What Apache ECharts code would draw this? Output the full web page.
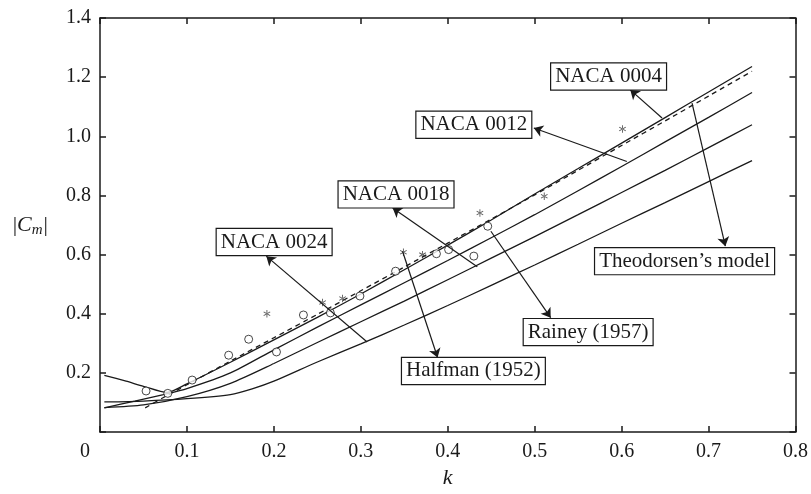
<!DOCTYPE html>
<html>
<head>
<meta charset="utf-8">
<script src="https://cdn.jsdelivr.net/npm/echarts@6/dist/echarts.min.js"></script>
<style>
  html, body { margin: 0; padding: 0; background: #fff; }
  #chart { width: 811px; height: 494px; }
</style>
</head>
<body>
<div id="chart"></div>
<script>
// Moment coefficient magnitude |Cm| versus reduced frequency k

// Axis ticks
const xTicks = [0, 0.1, 0.2, 0.3, 0.4, 0.5, 0.6, 0.7, 0.8];
const yTicks = [0, 0.2, 0.4, 0.6, 0.8, 1.0, 1.2, 1.4];

// Computed curves, [k, |Cm|]
const naca0004 = [[0.005,0.192],[0.03,0.172],[0.05,0.155],[0.077,0.134],[0.1,0.163],[0.15,0.236],[0.2,0.312],[0.25,0.388],[0.3,0.467],[0.35,0.549],[0.4,0.632],[0.45,0.717],[0.5,0.805],[0.55,0.891],[0.6,0.977],[0.65,1.063],[0.7,1.15],[0.75,1.236]];
const naca0012 = [[0.005,0.082],[0.04,0.105],[0.073,0.127],[0.1,0.147],[0.15,0.2],[0.2,0.278],[0.25,0.355],[0.3,0.43],[0.35,0.505],[0.4,0.58],[0.45,0.657],[0.5,0.735],[0.55,0.816],[0.6,0.898],[0.65,0.981],[0.7,1.064],[0.75,1.148]];
const naca0018 = [[0.005,0.083],[0.05,0.092],[0.1,0.12],[0.15,0.165],[0.2,0.232],[0.25,0.303],[0.3,0.373],[0.35,0.443],[0.4,0.515],[0.45,0.588],[0.5,0.661],[0.55,0.735],[0.6,0.81],[0.65,0.885],[0.7,0.962],[0.75,1.039]];
const naca0024 = [[0.005,0.102],[0.05,0.105],[0.1,0.113],[0.15,0.127],[0.175,0.146],[0.2,0.172],[0.25,0.237],[0.3,0.298],[0.35,0.362],[0.4,0.428],[0.45,0.496],[0.5,0.565],[0.55,0.635],[0.6,0.706],[0.65,0.776],[0.7,0.847],[0.75,0.918]];
const theodorsen = [[0.052,0.082],[0.073,0.117],[0.092,0.147],[0.1,0.16],[0.15,0.24],[0.2,0.319],[0.25,0.398],[0.3,0.478],[0.35,0.558],[0.4,0.639],[0.45,0.72],[0.5,0.802],[0.55,0.885],[0.6,0.969],[0.65,1.052],[0.7,1.136],[0.75,1.22]];

// Experimental data
const rainey1957 = [[0.053,0.139],[0.078,0.131],[0.106,0.176],[0.148,0.26],[0.171,0.314],[0.203,0.271],[0.234,0.396],[0.265,0.403],[0.299,0.46],[0.34,0.544],[0.387,0.603],[0.401,0.617],[0.43,0.595],[0.446,0.696]];
const halfman1952 = [[0.192,0.4],[0.256,0.438],[0.279,0.452],[0.349,0.608],[0.371,0.6],[0.437,0.741],[0.511,0.797],[0.601,1.025]];

// Callout boxes: text, box centre [k, |Cm|]
const calloutText = ['NACA 0004', 'NACA 0012', 'NACA 0018', 'NACA 0024', 'Theodorsen\u2019s model', 'Rainey (1957)', 'Halfman (1952)'];
const calloutAt = [[0.585,1.202],[0.430,1.039],[0.3405,0.8036],[0.2003,0.6427],[0.6724,0.578],[0.5615,0.338],[0.4295,0.2068]];
// Arrow from a curve / point to its box: tail and head [k, |Cm|]
const arrowTail = [[0.6465,1.062],[0.606,0.915],[0.434,0.559],[0.3073,0.3046],[0.681,1.112],[0.4496,0.679],[0.348,0.6116]];
const arrowHead = [[0.610,1.157],[0.499,1.028],[0.3366,0.758],[0.1913,0.5948],[0.7193,0.6285],[0.5184,0.387],[0.3883,0.252]];

const FONT = 'Liberation Serif';
const INK = '#1a1a1a';

const asterisk = 'path://M-0.6,-5L0.6,-5L0.6,5L-0.6,5Z' +
  'M4.03,3.02L4.63,1.98L-4.03,-3.02L-4.63,-1.98Z' +
  'M-4.63,1.98L-4.03,3.02L4.63,-1.98L4.03,-3.02Z';

function curve(name, data, dashed) {
  return {
    name: name, type: 'line', data: data, showSymbol: false, smooth: 0.25,
    silent: true, z: 3,
    lineStyle: { color: INK, width: 1.3, type: dashed ? [5, 4] : 'solid' }
  };
}

const chart = echarts.init(document.getElementById('chart'), null, { renderer: 'canvas' });

const axisLineStyle = { color: INK, width: 1.5 };

chart.setOption({
  animation: false,
  backgroundColor: '#fff',
  grid: { left: 100, right: 14, top: 18, bottom: 61, containLabel: false },
  xAxis: [{
    type: 'value', min: xTicks[0], max: xTicks[xTicks.length - 1], interval: 0.1,
    name: 'k', nameLocation: 'middle', nameGap: 30,
    nameTextStyle: { fontFamily: FONT, fontSize: 22, fontStyle: 'italic', color: INK },
    axisLine: { show: true, onZero: false, lineStyle: axisLineStyle },
    axisTick: { show: true, inside: true, length: 6, lineStyle: axisLineStyle },
    splitLine: { show: false },
    axisLabel: {
      margin: 10, color: INK, fontFamily: FONT, fontSize: 20,
      formatter: v => (Math.abs(v) < 1e-9 ? '{z|0}' : v.toFixed(1)),
      rich: { z: { fontFamily: FONT, fontSize: 20, color: INK, padding: [0, 30, 0, 0] } }
    }
  }, {
    type: 'value', position: 'top', min: xTicks[0], max: xTicks[xTicks.length - 1], interval: 0.1,
    axisLine: { show: true, onZero: false, lineStyle: axisLineStyle },
    axisTick: { show: true, inside: true, length: 6, lineStyle: axisLineStyle },
    axisLabel: { show: false }, splitLine: { show: false }
  }],
  yAxis: [{
    type: 'value', min: yTicks[0], max: yTicks[yTicks.length - 1], interval: 0.2,
    name: '|{c|C}{m|m}|', nameLocation: 'middle', nameRotate: 0, nameGap: 52,
    nameTextStyle: {
      fontFamily: FONT, fontSize: 22, color: INK,
      rich: {
        c: { fontFamily: FONT, fontSize: 22, fontStyle: 'italic', color: INK },
        m: { fontFamily: FONT, fontSize: 15, fontStyle: 'italic', color: INK, padding: [10, 1, 0, 0] }
      }
    },
    axisLine: { show: true, onZero: false, lineStyle: axisLineStyle },
    axisTick: { show: true, inside: true, length: 6, lineStyle: axisLineStyle },
    splitLine: { show: false },
    axisLabel: {
      margin: 9, color: INK, fontFamily: FONT, fontSize: 20,
      formatter: v => (Math.abs(v) < 1e-9 ? '' : v.toFixed(1))
    }
  }, {
    type: 'value', position: 'right', min: yTicks[0], max: yTicks[yTicks.length - 1], interval: 0.2,
    axisLine: { show: true, onZero: false, lineStyle: axisLineStyle },
    axisTick: { show: true, inside: true, length: 6, lineStyle: axisLineStyle },
    axisLabel: { show: false }, splitLine: { show: false }
  }],
  series: [
    curve('NACA 0004', naca0004, false),
    curve('NACA 0012', naca0012, false),
    curve('NACA 0018', naca0018, false),
    curve('NACA 0024', naca0024, false),
    curve('Theodorsen', theodorsen, true),
    {
      name: 'Rainey (1957)', type: 'scatter', data: rainey1957, z: 4,
      symbol: 'circle', symbolSize: 8, silent: true,
      itemStyle: { color: '#fff', borderColor: INK, borderWidth: 1 }
    },
    {
      name: 'Halfman (1952)', type: 'scatter', data: halfman1952, z: 4,
      symbol: asterisk, symbolSize: [7, 7.5], silent: true,
      itemStyle: { color: '#333' },
      markLine: {
        silent: true, animation: false,
        symbol: ['none', 'arrow'], symbolSize: 9,
        label: { show: false },
        lineStyle: { color: INK, width: 1.2, type: 'solid' },
        emphasis: { disabled: true },
        data: arrowTail.map((t, i) => [{ coord: t }, { coord: arrowHead[i] }])
      },
      markPoint: {
        silent: true, animation: false,
        symbol: 'rect', symbolSize: 1,
        itemStyle: { color: 'rgba(0,0,0,0)' },
        label: {
          show: true, position: 'inside', formatter: p => p.name,
          fontFamily: FONT, fontSize: 21, color: INK,
          backgroundColor: '#fff', borderColor: INK, borderWidth: 1.2,
          padding: [3, 4, 1, 4], lineHeight: 22
        },
        data: calloutText.map((t, i) => ({ name: t, coord: calloutAt[i] }))
      }
    }
  ]
});
</script>
</body>
</html>
